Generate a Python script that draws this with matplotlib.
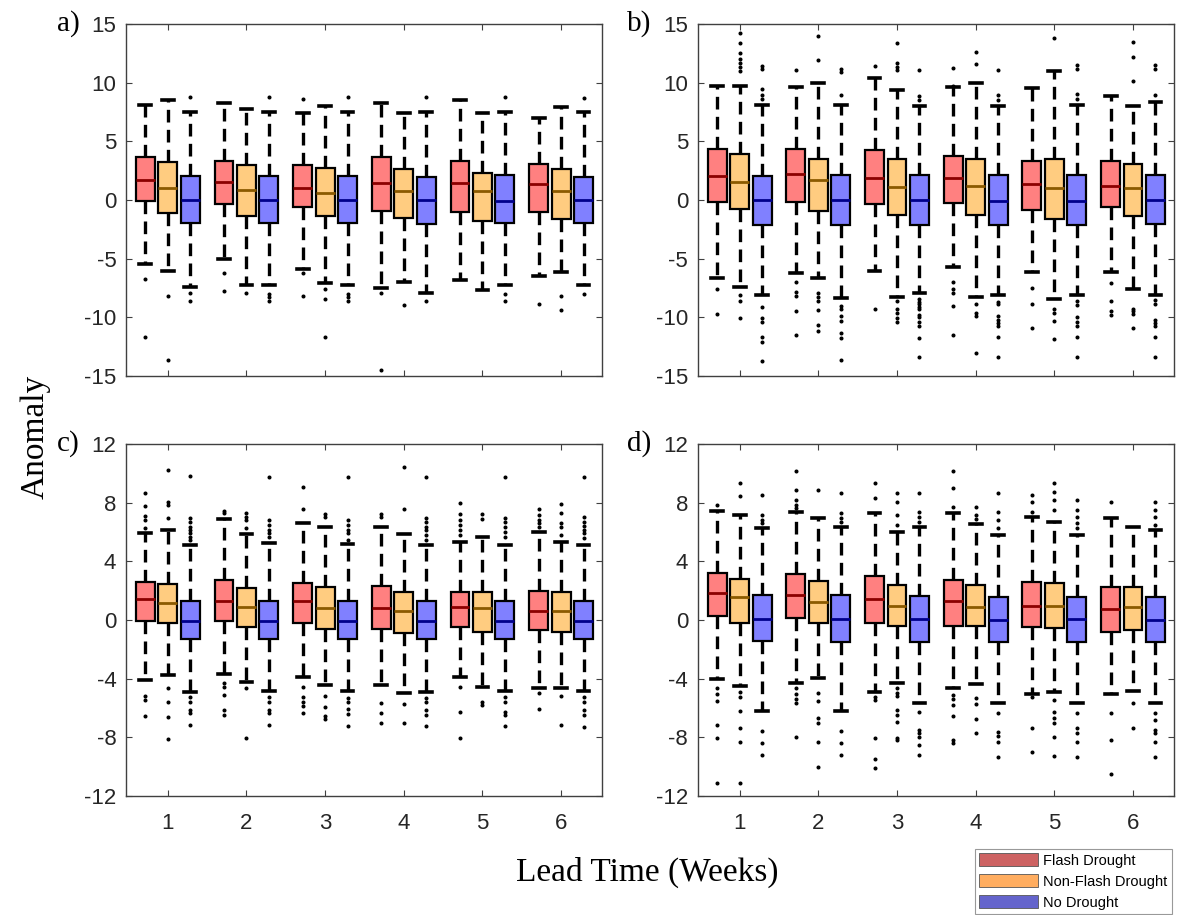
import numpy as np
import matplotlib
matplotlib.use("Agg")
import matplotlib.pyplot as plt
from matplotlib.patches import Patch

plt.rcParams["axes.unicode_minus"] = False

# lead times (weeks) and the three drought classes
LEADS = [1, 2, 3, 4, 5, 6]
GROUPS = ["Flash Drought", "Non-Flash Drought", "No Drought"]

# ---- panel a) box statistics, rows = groups, cols = lead time ----
a_q3 = [[3.64, 3.30, 2.98, 3.64, 3.30, 3.07],
        [3.21, 2.95, 2.70, 2.61, 2.33, 2.64],
        [2.05, 2.05, 2.05, 1.99, 2.10, 1.99]]
a_med = [[1.70, 1.53, 0.99, 1.42, 1.42, 1.34],
         [1.05, 0.82, 0.63, 0.77, 0.77, 0.77],
         [0.00, 0.00, 0.00, 0.00, -0.06, 0.00]]
a_q1 = [[-0.06, -0.31, -0.63, -0.94, -0.99, -0.99],
        [-1.14, -1.36, -1.36, -1.56, -1.76, -1.65],
        [-1.93, -1.99, -1.99, -2.05, -1.99, -1.93]]
a_whi = [[8.07, 8.24, 7.44, 8.24, 8.52, 6.96],
         [8.52, 7.76, 8.01, 7.44, 7.39, 7.90],
         [7.53, 7.53, 7.53, 7.53, 7.53, 7.53]]
a_wlo = [[-5.48, -5.06, -5.91, -7.53, -6.85, -6.50],
         [-6.05, -7.25, -7.10, -6.96, -7.65, -6.11],
         [-7.45, -7.25, -7.25, -7.90, -7.28, -7.25]]
a_out = [[[-6.73, -11.7], [-6.2, -7.8], [8.58, -6.25, -8.18], [-7.9, -14.5], [], [-8.9]],
         [[-8.15, -13.6], [-7.95], [-7.6, -8.45, -11.7], [-8.95], [], [-8.2, -9.4]],
         [[8.8, -7.9, -8.6], [8.75, -8.03, -8.3, -8.6], [8.8, -8.03, -8.3, -8.6],
          [8.8, -8.58], [8.8, -8.0, -8.58], [8.66, -8.0]]]

# ---- panel b) ----
b_q3 = [[4.35, 4.35, 4.26, 3.78, 3.35, 3.35],
        [3.92, 3.52, 3.52, 3.52, 3.52, 3.07],
        [2.05, 2.13, 2.13, 2.13, 2.13, 2.13]]
b_med = [[2.05, 2.19, 1.85, 1.90, 1.34, 1.19],
         [1.56, 1.68, 1.14, 1.19, 1.05, 1.05],
         [0.00, 0.00, 0.00, -0.09, -0.09, 0.00]]
b_q1 = [[-0.14, -0.20, -0.34, -0.23, -0.85, -0.57],
        [-0.80, -0.91, -1.28, -1.28, -1.62, -1.36],
        [-2.16, -2.16, -2.16, -2.16, -2.16, -2.07]]
b_whi = [[9.72, 9.60, 10.4, 9.60, 9.52, 8.86],
         [9.72, 10.0, 9.38, 10.0, 11.0, 8.01],
         [8.10, 8.10, 8.01, 8.01, 8.10, 8.38]]
b_wlo = [[-6.68, -6.25, -6.02, -5.68, -6.10, -6.10],
         [-7.44, -6.68, -8.24, -8.30, -8.47, -7.60],
         [-8.07, -8.38, -7.90, -8.10, -8.10, -8.10]]
b_out = [[[-7.59, -9.69], [11.1, -7.0, -7.87, -8.15, -9.46, -11.5], [11.45, -9.3],
          [9.72, 11.28, -6.96, -7.6, -7.96, -9.04, -11.5], [-7.53, -8.9, -10.95],
          [-7.05, -8.58, -9.5, -9.8]],
         [[14.2, 13.35, 12.5, 12.0, 11.7, 11.36, 11.0, -8.1, -8.6, -10.06],
          [11.9, 13.98, -7.96, -8.3, -8.6, -9.38, -10.66, -11.2],
          [11.08, 11.36, 11.7, 13.35, -8.58, -9.3, -9.6, -10.1, -10.4],
          [11.6, 12.64, -8.9, -9.6, -9.9, -13.0],
          [13.78, -9.3, -9.6, -10.3, -11.85],
          [10.1, 12.2, 13.5, -9.3, -9.5, -9.7, -10.9]],
         [[8.58, 8.95, 9.5, 11.2, 11.45, -9.1, -10.1, -10.4, -11.7, -12.1, -13.7],
          [8.95, 10.94, 11.2, -9.0, -9.3, -9.9, -10.3, -11.3, -11.8, -13.6],
          [8.52, 8.86, 11.1, -8.48, -8.68, -8.9, -9.1, -9.3, -9.8, -10.0, -10.4, -10.7, -11.8, -13.4],
          [8.52, 8.95, 11.08, -8.7, -8.9, -9.9, -10.2, -10.5, -10.7, -11.65, -13.4],
          [8.6, 9.03, 11.2, 11.5, -8.58, -8.95, -10.0, -10.4, -10.7, -11.65, -13.4],
          [8.95, 11.16, 11.5, -8.55, -8.9, -10.2, -10.5, -10.7, -11.65, -13.4]]]

# ---- panel c) ----
c_q3 = [[2.61, 2.73, 2.55, 2.34, 1.89, 2.00],
        [2.43, 2.20, 2.27, 1.89, 1.93, 1.93],
        [1.32, 1.32, 1.32, 1.32, 1.32, 1.32]]
c_med = [[1.41, 1.30, 1.30, 0.80, 0.86, 0.64],
         [1.18, 0.86, 0.84, 0.61, 0.80, 0.61],
         [-0.05, -0.05, -0.05, -0.05, -0.05, -0.05]]
c_q1 = [[-0.05, -0.09, -0.23, -0.64, -0.50, -0.68],
        [-0.18, -0.45, -0.59, -0.86, -0.84, -0.82],
        [-1.27, -1.27, -1.27, -1.27, -1.27, -1.27]]
c_whi = [[5.91, 6.91, 6.64, 6.32, 5.34, 6.02],
         [6.14, 5.86, 6.36, 5.86, 5.64, 5.34],
         [5.11, 5.23, 5.18, 5.11, 5.11, 5.11]]
c_wlo = [[-4.09, -3.68, -3.91, -4.43, -3.86, -4.66],
         [-3.75, -4.20, -4.43, -4.95, -4.55, -4.61],
         [-4.89, -4.84, -4.82, -4.89, -4.84, -4.84]]
c_out = [[[6.25, 6.82, 7.09, 7.77, 8.68, -5.18, -5.45, -6.55],
          [7.27, 7.45, -4.32, -4.55, -5.11, -6.14, -6.48],
          [7.55, 9.09, -4.55, -5.23, -5.57, -5.86, -6.36],
          [7.0, 7.2, -5.64, -6.36, -7.0],
          [5.8, 6.14, 6.48, 6.82, 7.23, 7.95, -4.55, -6.25, -8.07],
          [6.36, 6.59, 6.82, 7.16, 7.55, -4.95, -6.09]],
         [[6.93, 7.84, 8.07, 10.23, -4.66, -5.57, -6.59, -8.11],
          [6.25, 6.82, 7.05, 7.27, -4.61, -8.02],
          [7.05, 7.2, -5.18, -5.91, -6.55, -6.75],
          [7.55, 10.45, -5.73, -7.0],
          [6.86, 7.2, -5.57, -5.8],
          [5.8, 6.36, 6.64, 7.27, 7.89, -5.18, -7.16]],
         [[5.45, 5.68, 5.91, 6.14, 6.36, 6.7, 6.93, 9.82, -5.27, -5.57, -6.14, -6.36, -7.16],
          [5.68, 5.91, 6.14, 6.48, 6.82, 9.73, -5.27, -5.57, -6.14, -6.36, -7.16],
          [5.45, 5.91, 6.14, 6.48, 6.82, 9.73, -5.3, -5.57, -6.1, -6.4, -7.25],
          [5.45, 5.8, 6.14, 6.36, 6.7, 6.93, 9.73, -5.3, -5.6, -6.14, -6.48, -7.25],
          [5.68, 6.02, 6.36, 6.7, 6.93, 9.73, -5.27, -5.57, -6.25, -6.48, -7.25],
          [5.57, 5.91, 6.14, 6.41, 6.7, 7.05, 9.73, -5.23, -5.57, -6.14, -6.48, -7.3]]]

# ---- panel d) ----
d_q3 = [[3.23, 3.11, 3.00, 2.73, 2.57, 2.27],
        [2.80, 2.68, 2.39, 2.39, 2.55, 2.27],
        [1.73, 1.73, 1.66, 1.59, 1.55, 1.59]]
d_med = [[1.82, 1.70, 1.43, 1.30, 0.98, 0.75],
         [1.55, 1.20, 0.98, 0.91, 0.98, 0.91],
         [0.05, 0.05, 0.05, 0.00, 0.05, 0.00]]
d_q1 = [[0.27, 0.16, -0.23, -0.39, -0.50, -0.80],
        [-0.18, -0.18, -0.41, -0.39, -0.57, -0.68],
        [-1.43, -1.48, -1.48, -1.48, -1.48, -1.48]]
d_whi = [[7.45, 7.39, 7.27, 7.27, 7.05, 6.93],
         [7.16, 6.98, 6.02, 6.55, 6.70, 6.32],
         [6.25, 6.36, 6.32, 5.80, 5.80, 6.14]]
d_wlo = [[-4.05, -4.27, -4.89, -4.66, -5.05, -5.07],
         [-4.50, -3.98, -4.27, -4.39, -4.89, -4.82],
         [-6.18, -6.18, -5.64, -5.64, -5.64, -5.64]]
d_out = [[[7.84, -4.66, -5.07, -5.52, -7.16, -8.07, -11.1],
          [7.61, 7.84, 8.18, 8.86, 10.18, -4.66, -5.05, -5.41, -5.68, -7.95],
          [8.3, 9.32, -5.23, -5.45, -8.07, -9.5, -10.1],
          [7.73, 8.98, 10.16, -5.11, -5.41, -5.8, -6.55, -8.18, -8.36],
          [7.39, 8.07, 8.52, -5.23, -7.39, -8.98],
          [8.07, -6.36, -8.18, -10.5]],
         [[8.45, 9.32, -4.89, -5.23, -6.2, -7.39, -8.3, -11.1],
          [8.86, -4.95, -5.52, -6.7, -7.05, -8.3, -10.0],
          [6.48, 7.16, 8.07, 8.64, -4.66, -4.95, -5.18, -6.14, -6.48, -6.93, -8.07, -8.18],
          [6.86, 7.16, 7.73, -5.34, -5.75, -6.77, -7.73],
          [7.5, 8.18, 8.75, 9.32, -5.45, -6.25, -6.7, -7.05, -7.95, -9.27],
          [-5.68, -7.39]],
         [[6.59, 6.82, 7.16, 8.52, -7.57, -8.36, -9.2],
          [6.7, 6.93, 7.27, 8.64, -7.57, -8.36, -9.2],
          [6.7, 7.05, 7.39, 8.68, -6.25, -7.5, -7.73, -7.95, -8.52, -9.2],
          [6.25, 6.82, 7.39, 8.64, -6.36, -7.61, -7.91, -8.3, -9.32],
          [6.25, 6.59, 7.05, 7.5, 8.18, -6.36, -7.39, -7.73, -8.3, -9.32],
          [6.48, 7.05, 7.5, 8.07, -6.36, -6.82, -7.5, -7.73, -8.3, -9.32]]]

# styling
FACE = ["#FF8080", "#FFCC80", "#8080FF"]
MEDIAN = ["#8B0000", "#8B5A00", "#00008B"]
LEGEND_FACE = ["#CD6262", "#FFAD60", "#6464CC"]
OFFSETS = [-0.285, 0.0, 0.285]
AXCOL = "#404040"
SANS = "Liberation Sans"
SERIF = "Liberation Serif"


def draw_panel(ax, q1, med, q3, wlo, whi, out, yticks, label, show_xlabels):
    for g in range(3):
        stats = []
        for i in range(len(LEADS)):
            stats.append(dict(q1=q1[g][i], med=med[g][i], q3=q3[g][i],
                              whislo=wlo[g][i], whishi=whi[g][i],
                              fliers=np.array(out[g][i])))
        pos = [x + OFFSETS[g] for x in LEADS]
        ax.bxp(stats, positions=pos, widths=0.24, capwidths=0.15,
               patch_artist=True, manage_ticks=False,
               boxprops=dict(facecolor=FACE[g], edgecolor="black", linewidth=1.6, zorder=3),
               medianprops=dict(color=MEDIAN[g], linewidth=2.0, zorder=4),
               whiskerprops=dict(color="black", linewidth=2.4, linestyle=(0, (3.8, 2.2)), zorder=2),
               capprops=dict(color="black", linewidth=2.6, zorder=2),
               flierprops=dict(marker="o", markersize=1.9, markerfacecolor="black",
                               markeredgecolor="black", linestyle="none", zorder=2))

    ax.set_xlim(0.47, 6.52)
    ax.set_ylim(yticks[0], yticks[-1])
    ax.set_xticks(LEADS)
    ax.set_yticks(yticks)
    if show_xlabels:
        ax.set_xticklabels([str(x) for x in LEADS])
    else:
        ax.set_xticklabels([])
    ax.tick_params(direction="in", length=4, width=0.8, top=True, right=True,
                   colors=AXCOL, labelcolor="#262626", labelsize=16)
    ax.tick_params(axis="x", pad=12)
    ax.tick_params(axis="y", pad=7)
    for lab in ax.get_xticklabels() + ax.get_yticklabels():
        lab.set_family(SANS)
    for sp in ax.spines.values():
        sp.set_color(AXCOL)
        sp.set_linewidth(1.0)
    ax.text(-0.098, 1.0, label, transform=ax.transAxes, ha="right", va="center",
            fontsize=21, family=SERIF, color="black")


fig = plt.figure(figsize=(11.77, 9.15), dpi=100)

W, H = 0.4044, 0.3847
ax_a = fig.add_axes([0.1071, 0.5891, W, H])
ax_b = fig.add_axes([0.5930, 0.5891, W, H])
ax_c = fig.add_axes([0.1071, 0.1301, W, H])
ax_d = fig.add_axes([0.5930, 0.1301, W, H])

ticks_ab = [-15, -10, -5, 0, 5, 10, 15]
ticks_cd = [-12, -8, -4, 0, 4, 8, 12]

draw_panel(ax_a, a_q1, a_med, a_q3, a_wlo, a_whi, a_out, ticks_ab, "a)", False)
draw_panel(ax_b, b_q1, b_med, b_q3, b_wlo, b_whi, b_out, ticks_ab, "b)", False)
draw_panel(ax_c, c_q1, c_med, c_q3, c_wlo, c_whi, c_out, ticks_cd, "c)", True)
draw_panel(ax_d, d_q1, d_med, d_q3, d_wlo, d_whi, d_out, ticks_cd, "d)", True)

fig.text(0.03, 0.523, "Anomaly", rotation=90, ha="center", va="center",
         fontsize=24, family=SERIF)
fig.text(0.55, 0.047, "Lead Time (Weeks)", ha="center", va="center",
         fontsize=24, family=SERIF)

handles = [Patch(facecolor=LEGEND_FACE[g], edgecolor="#555555", linewidth=0.6, label=GROUPS[g])
           for g in range(3)]
leg = fig.legend(handles=handles, loc="lower right", bbox_to_anchor=(0.9958, 0.001),
                 prop=dict(family=SANS, size=10.5), handlelength=4.0, handleheight=1.0,
                 labelspacing=0.45, handletextpad=0.4, borderpad=0.3, borderaxespad=0.0,
                 fancybox=False, framealpha=1.0, edgecolor="#999999")
leg.get_frame().set_linewidth(0.8)

fig.savefig("out.png", dpi=100)
